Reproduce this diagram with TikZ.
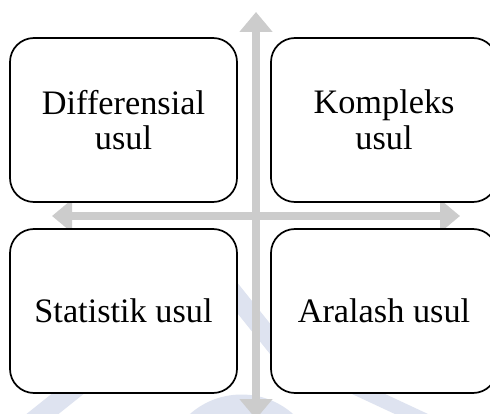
\documentclass[tikz,border=0pt]{standalone}
\usepackage{fontspec}
\setmainfont{Liberation Serif}
\usetikzlibrary{arrows.meta}
\definecolor{axisgray}{RGB}{204,204,204}
\definecolor{wm}{RGB}{222,227,240}
\tikzset{
  quadbox/.style={draw=black, fill=white, line width=1.7pt, rounded corners=24pt,
    minimum height=164pt, inner sep=0pt, align=center,
    font=\fontsize{34.3pt}{35.6pt}\selectfont},
  axisline/.style={draw=axisgray, line width=8pt,
    {Triangle[length=20pt,width=32pt]}-{Triangle[length=20pt,width=32pt]}},
  wmband/.style={draw=wm, line cap=butt}
}
\begin{document}
\begin{tikzpicture}[x=1pt,y=-1pt]
\clip (0,0) rectangle (490,414);
\fill[white] (0,0) rectangle (490,414);
% faint watermark
\draw[wmband, line width=20pt] (20,432) -- (95,372);
\fill[wm] (241.5,472.4) circle (77.9pt);
\draw[wmband, line width=14pt] (330,376) -- (450,432);
\draw[wmband, line width=19pt] (215,270) -- (295,370);
% axes
\coordinate (top) at (256,12);
\coordinate (bottom) at (256,419);
\coordinate (left) at (52,216);
\coordinate (right) at (460,216);
\draw[axisline] (bottom) -- (top);
\draw[axisline] (left) -- (right);
% boxes
\node[quadbox, minimum width=227pt] (tl) at (123.5,120) {Differensial\\usul};
\node[quadbox, minimum width=226pt] (tr) at (384,120) {Kompleks\\usul};
\node[quadbox, minimum width=227pt] (bl) at (123.5,311) {Statistik usul};
\node[quadbox, minimum width=226pt] (br) at (384,311) {Aralash usul};
\end{tikzpicture}
\end{document}
